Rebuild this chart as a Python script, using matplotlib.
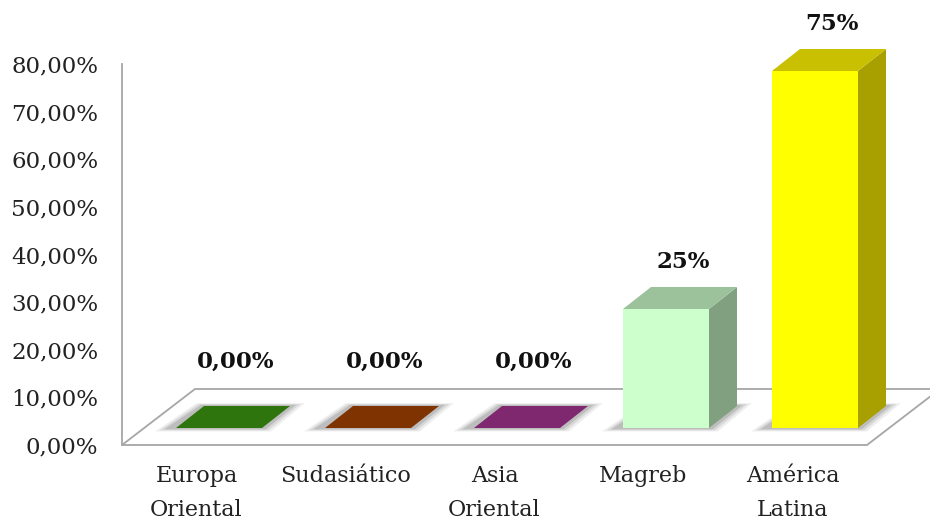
import matplotlib
matplotlib.use('Agg')
import matplotlib.pyplot as plt
from matplotlib.patches import Polygon

# data
categories = ['Europa\nOriental', 'Sudasiático', 'Asia\nOriental', 'Magreb', 'América\nLatina']
values = [0, 0, 0, 25, 75]
value_labels = ['0,00%', '0,00%', '0,00%', '25%', '75%']
front_colors = ['#2E750E', '#7F3300', '#7F2870', '#CCFFCC', '#FFFF00']
top_colors = ['#2E750E', '#7F3300', '#7F2870', '#9BC29B', '#C8C000']
side_colors = ['#2E750E', '#7F3300', '#7F2870', '#80A080', '#A8A000']
yticks = [0, 10, 20, 30, 40, 50, 60, 70, 80]
ytick_labels = ['0,00%', '10,00%', '20,00%', '30,00%', '40,00%', '50,00%', '60,00%', '70,00%', '80,00%']

plt.rcParams['font.family'] = ['DejaVu Serif']

fig = plt.figure(figsize=(9.3, 5.2), dpi=100)
ax = fig.add_axes([122 / 930, 75 / 520, 808 / 930, 445 / 520])
ax.set_xlim(-0.5, -0.5 + 808 / 149)
ax.set_ylim(0, 445 / 4.76)
for s in ax.spines.values():
    s.set_visible(False)
ax.set_xticks([])
ax.set_yticks(yticks)
ax.set_yticklabels(ytick_labels, fontsize=16.5, color='#222222')
ax.tick_params(axis='y', length=0, pad=17)

# fake 3d geometry (data units)
n = len(categories)
bar_w = 86 / 149
ddx, ddy = 28 / 149, 22 / 4.76        # bar depth
fdx, fdy = 73 / 149, 56 / 4.76        # floor depth
offx, offy = (fdx - ddx) / 2, (fdy - ddy) / 2
edge = '#A6A6A6'

# floor and axis line
floor = Polygon([(-0.5, 0), (n - 0.5, 0), (n - 0.5 + fdx, fdy), (-0.5 + fdx, fdy)],
                closed=True, facecolor='white', edgecolor=edge, lw=1.3, clip_on=False)
ax.add_patch(floor)
ax.plot([-0.5, -0.5], [0, 80], color=edge, lw=1.3, clip_on=False)

for i, v in enumerate(values):
    x0 = i - bar_w / 2 + offx
    y0 = offy
    # soft shadow around the base
    for k, a in zip([0.10, 0.07, 0.04], [0.10, 0.15, 0.22]):
        sx, sy = k, k * 12
        shadow = Polygon([(x0 - sx - 0.04, y0 - sy * 0.6), (x0 + bar_w + sx * 0.6, y0 - sy * 0.6),
                          (x0 + bar_w + ddx + sx, y0 + ddy + sy * 0.5), (x0 + ddx - sx * 0.5, y0 + ddy + sy * 0.5)],
                         closed=True, facecolor='#606060', alpha=a, lw=0)
        ax.add_patch(shadow)
    if v > 0:
        side = Polygon([(x0 + bar_w, y0), (x0 + bar_w + ddx, y0 + ddy),
                        (x0 + bar_w + ddx, y0 + v + ddy), (x0 + bar_w, y0 + v)],
                       closed=True, facecolor=side_colors[i], lw=0)
        ax.add_patch(side)
        ax.add_patch(plt.Rectangle((x0, y0), bar_w, v, facecolor=front_colors[i], lw=0))
    top = Polygon([(x0, y0 + v), (x0 + bar_w, y0 + v), (x0 + bar_w + ddx, y0 + v + ddy),
                   (x0 + ddx, y0 + v + ddy)], closed=True, facecolor=top_colors[i], lw=0)
    ax.add_patch(top)
    lab_y = y0 + v + ddy / 2 + (5.2 if v > 0 else 9.2)
    ax.text(i + offx + ddx / 2 + 0.02, lab_y, value_labels[i], ha='center', va='bottom',
            fontsize=16.5, fontweight='bold', color='#111111')
    ax.text(i, -4.2, categories[i], ha='center', va='top', fontsize=16,
            color='#222222', linespacing=1.7)

fig.savefig('out.png', dpi=100)
